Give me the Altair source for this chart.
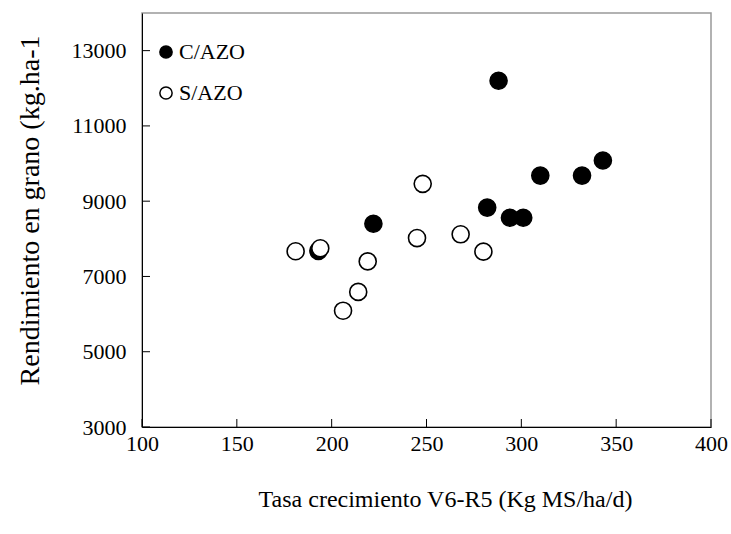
import altair as alt
import pandas as pd

# C/AZO (filled)
c_x = [193, 222, 282, 288, 294, 301, 310, 332, 343]
c_y = [7680, 8400, 8830, 12200, 8560, 8560, 9680, 9680, 10080]
# S/AZO (open)
s_x = [181, 194, 206, 214, 219, 245, 248, 268, 280]
s_y = [7670, 7750, 6090, 6590, 7400, 8020, 9460, 8120, 7660]

x_ticks = [100, 150, 200, 250, 300, 350, 400]
y_ticks = [3000, 5000, 7000, 9000, 11000, 13000]

df = pd.DataFrame({
    "x": c_x + s_x,
    "y": c_y + s_y,
    "grupo": ["C/AZO"] * len(c_x) + ["S/AZO"] * len(s_x),
})

FONT = "Liberation Serif"
W, H = 569, 414

xs = alt.Scale(domain=[100, 400], nice=False)
ys = alt.Scale(domain=[3000, 14000], nice=False)

points = alt.Chart(df).mark_point(
    shape="circle", filled=False, size=290, strokeWidth=1.6, stroke="black", opacity=1
).encode(
    x=alt.X("x:Q", scale=xs, axis=alt.Axis(
        values=x_ticks, format="d", title="Tasa crecimiento V6-R5 (Kg MS/ha/d)",
        grid=False, ticks=False, domainColor="black", labelPadding=6,
        labelFontSize=22, titleFontSize=24, titleFontWeight="normal",
        labelFont=FONT, titleFont=FONT, labelColor="black", titleColor="black",
        titlePadding=33, titleX=303, titleAlign="center", labelFlush=False)),
    y=alt.Y("y:Q", scale=ys, axis=alt.Axis(
        values=y_ticks, format="d", title="Rendimiento en grano (kg.ha-1",
        grid=False, ticks=False, domainColor="black", labelPadding=16,
        labelFontSize=22, titleFontSize=28, titleFontWeight="normal",
        labelFont=FONT, titleFont=FONT, labelColor="black", titleColor="black",
        titlePadding=27, titleY=197, titleAlign="center", labelFlush=False)),
    fill=alt.Fill("grupo:N", scale=alt.Scale(domain=["C/AZO", "S/AZO"], range=["black", "white"]),
                  legend=alt.Legend(
                      title=None, orient="none", legendX=13, legendY=28,
                      symbolType="circle", symbolSize=150, symbolStrokeColor="black",
                      symbolStrokeWidth=1.5, labelFont=FONT, labelFontSize=22,
                      labelColor="black", rowPadding=19, labelOffset=2)),
    order=alt.Order("grupo:N", sort="ascending"),
)

ytick_df = pd.DataFrame({"v": y_ticks})
yticks = alt.Chart(ytick_df).mark_rule(color="black", strokeWidth=1).encode(
    y=alt.Y("v:Q", scale=ys), x=alt.value(0), x2=alt.value(8))

xtick_df = pd.DataFrame({"v": x_ticks})
xticks = alt.Chart(xtick_df).mark_rule(color="black", strokeWidth=1).encode(
    x=alt.X("v:Q", scale=xs), y=alt.value(H), y2=alt.value(H - 8))

chart = alt.layer(points, yticks, xticks).properties(
    width=W, height=H,
    padding={"left": 142, "top": 13, "right": 20, "bottom": 107},
    autosize=alt.AutoSizeParams(type="none"),
    background="white",
).configure_view(stroke="#999999", strokeWidth=1.5)

chart.save("out.html", embed_options={"renderer": "svg", "actions": False})
